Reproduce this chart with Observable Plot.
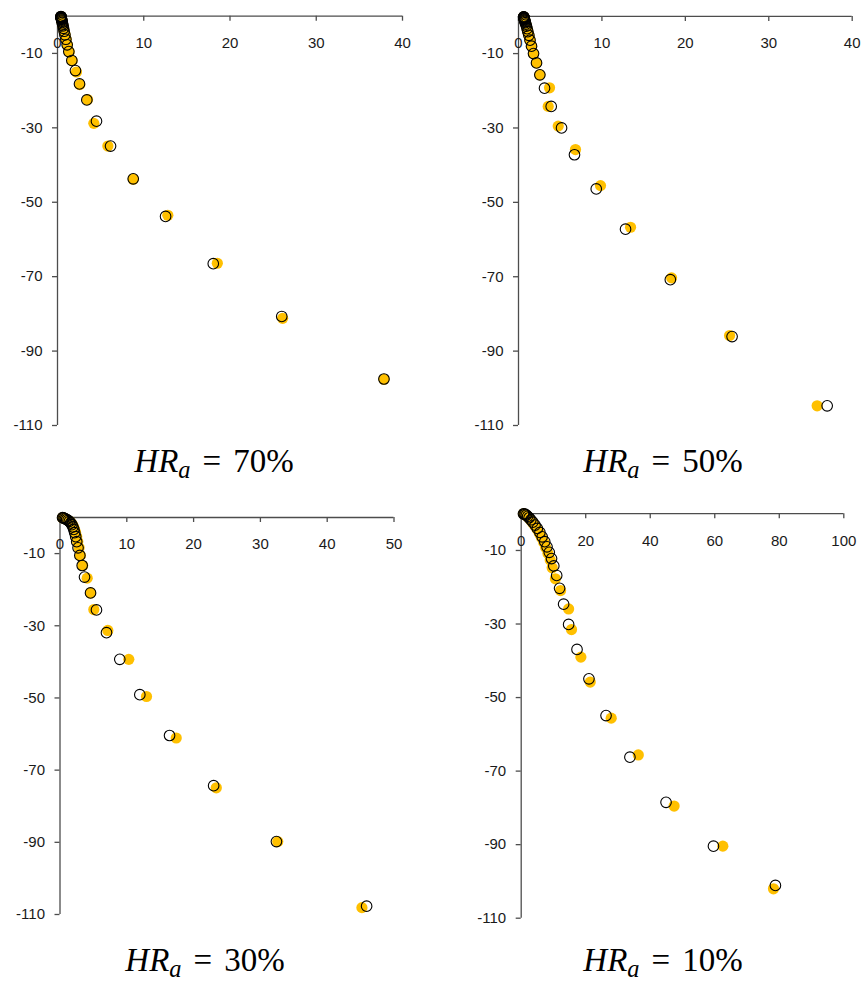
<!DOCTYPE html>
<html>
<head>
<meta charset="utf-8">
<script src="https://cdn.jsdelivr.net/npm/d3@7"></script>
<script src="https://cdn.jsdelivr.net/npm/@observablehq/plot@0.6"></script>
<style>
  body { margin: 0; background: #fff; }
  #wrap { position: relative; width: 861px; height: 981px; }
  .panel { position: absolute; }
  .title { position: absolute; width: 260px; height: 40px; text-align: center; font-family: "Liberation Serif", "DejaVu Serif", serif;
           font-size: 33px; line-height: 33px; color: #000; white-space: nowrap; }
  .title i { font-style: italic; }
  .title .sub { font-size: 0.74em; position: relative; top: 0.22em; font-style: italic; }
  .title .eq { margin: 0 12px; }
</style>
</head>
<body>
<div id="wrap"></div>
<script>
// ---------------- data ----------------
const panelTitles = ["70%", "50%", "30%", "10%"];
const yTicks = [-10, -30, -50, -70, -90, -110];
const xTicks70 = [0, 10, 20, 30, 40];
const xTicks50 = [0, 10, 20, 30, 40];
const xTicks30 = [0, 10, 20, 30, 40, 50];
const xTicks10 = [0, 20, 40, 60, 80, 100];

// HRa = 70%
const hr70OpenX = [0.40,0.41,0.41,0.42,0.43,0.44,0.45,0.47,0.49,0.52,0.55,0.59,0.64,0.70,0.77,0.86,0.97,1.12,1.31,1.66,2.08,2.55,3.40,4.52,6.15,8.78,12.53,18.06,26.0,37.85];
const hr70OpenY = [-0.08,-0.15,-0.22,-0.3,-0.4,-0.52,-0.66,-0.84,-1.06,-1.34,-1.68,-2.1,-2.6,-3.25,-4.05,-5.0,-6.2,-7.7,-9.5,-11.9,-14.6,-18.2,-22.5,-28.2,-34.9,-43.7,-53.8,-66.5,-80.7,-97.5];
const hr70FillX = [0.40,0.41,0.41,0.42,0.43,0.44,0.45,0.47,0.49,0.52,0.55,0.59,0.64,0.70,0.78,0.88,1.00,1.15,1.36,1.70,2.20,2.58,3.48,4.21,5.84,8.78,12.79,18.53,26.1,37.85];
const hr70FillY = [-0.08,-0.15,-0.22,-0.3,-0.4,-0.52,-0.66,-0.84,-1.06,-1.34,-1.68,-2.1,-2.6,-3.25,-4.05,-5.0,-6.2,-7.7,-9.6,-12.0,-15.0,-18.4,-22.4,-28.8,-34.9,-43.8,-53.5,-66.4,-81.2,-97.6];

// HRa = 50%
const hr50OpenX = [0.62,0.63,0.63,0.64,0.65,0.66,0.67,0.69,0.72,0.75,0.78,0.82,0.88,0.95,1.03,1.12,1.24,1.38,1.56,1.80,2.16,2.56,3.12,3.92,5.16,6.71,9.32,12.83,18.2,25.6,37.0];
const hr50OpenY = [-0.12,-0.18,-0.22,-0.28,-0.35,-0.44,-0.55,-0.69,-0.86,-1.08,-1.35,-1.7,-2.1,-2.6,-3.3,-4.1,-5.1,-6.4,-8.0,-10.0,-12.5,-15.7,-19.3,-24.2,-30.0,-37.2,-46.4,-57.2,-70.8,-86.1,-104.7];
const hr50FillX = [0.62,0.63,0.63,0.64,0.65,0.66,0.67,0.69,0.72,0.75,0.78,0.82,0.88,0.95,1.03,1.12,1.24,1.38,1.56,1.80,2.16,2.56,3.72,3.56,4.76,6.83,9.83,13.43,18.35,25.3,35.8];
const hr50FillY = [-0.12,-0.18,-0.22,-0.28,-0.35,-0.44,-0.55,-0.69,-0.86,-1.08,-1.35,-1.7,-2.1,-2.6,-3.3,-4.1,-5.1,-6.4,-8.0,-10.0,-12.5,-15.7,-19.2,-24.2,-29.5,-35.8,-45.5,-56.7,-70.3,-85.8,-104.7];

// HRa = 30%
const hr30OpenX = [0.38,0.50,0.65,0.82,1.00,1.20,1.40,1.60,1.78,1.93,2.07,2.20,2.35,2.50,2.70,2.97,3.32,3.67,4.57,5.46,6.96,8.95,11.95,16.4,23.0,32.4,45.9];
const hr30OpenY = [-0.05,-0.12,-0.22,-0.36,-0.55,-0.8,-1.1,-1.5,-2.0,-2.6,-3.3,-4.2,-5.3,-6.7,-8.4,-10.5,-13.3,-16.5,-20.9,-25.6,-31.9,-39.3,-49.1,-60.4,-74.3,-89.8,-107.7];
const hr30FillX = [0.38,0.50,0.65,0.82,1.00,1.22,1.44,1.66,1.86,2.03,2.19,2.34,2.50,2.66,2.86,3.05,3.40,4.07,4.57,5.06,7.16,10.3,12.95,17.4,23.4,32.6,45.2];
const hr30FillY = [-0.05,-0.12,-0.22,-0.36,-0.55,-0.8,-1.1,-1.5,-2.0,-2.6,-3.3,-4.2,-5.3,-6.7,-8.4,-10.5,-13.3,-16.8,-20.9,-25.5,-31.3,-39.3,-49.6,-61.1,-74.9,-89.8,-108.1];

// HRa = 10%
const hr10OpenX = [0.7,0.95,1.25,1.6,2.0,2.45,3.0,3.6,4.3,5.0,5.8,6.5,7.3,8.0,8.7,9.4,10.1,11.0,11.9,13.15,14.7,17.3,21.0,26.3,33.7,44.9,59.6,78.8];
const hr10OpenY = [-0.02,-0.08,-0.2,-0.4,-0.7,-1.1,-1.65,-2.3,-3.1,-4.0,-5.1,-6.3,-7.6,-9.0,-10.5,-12.2,-14.2,-16.8,-20.3,-24.6,-30.1,-36.9,-44.9,-54.9,-66.2,-78.5,-90.4,-101.1];
const hr10FillX = [0.7,0.92,1.2,1.55,1.95,2.4,2.9,3.5,4.2,4.9,5.6,6.3,7.0,7.6,8.3,9.0,9.6,10.6,12.2,14.7,15.6,18.5,21.4,27.9,36.3,47.4,62.5,78.2];
const hr10FillY = [-0.02,-0.08,-0.21,-0.42,-0.72,-1.15,-1.7,-2.4,-3.2,-4.2,-5.3,-6.5,-7.8,-9.2,-10.8,-12.6,-14.7,-17.7,-20.9,-25.9,-31.5,-39.0,-45.8,-55.6,-65.6,-79.5,-90.4,-102.0];

// ---------------- layout (pixels) ----------------
const layouts = [
  {left: 0,   top: 0,   w: 430, h: 440, ml: 57,   mr: 28,   mt: 15.7, mb: 15,   xDomain: [0, 40],  xTicks: xTicks70, openX: hr70OpenX, openY: hr70OpenY, fillX: hr70FillX, fillY: hr70FillY, tcx: 214, tbase: 473},
  {left: 430, top: 0,   w: 431, h: 440, ml: 88,   mr: 9.3,  mt: 15.9, mb: 15,   xDomain: [0, 40],  xTicks: xTicks50, openX: hr50OpenX, openY: hr50OpenY, fillX: hr50FillX, fillY: hr50FillY, tcx: 663, tbase: 473},
  {left: 0,   top: 490, w: 430, h: 440, ml: 59.5, mr: 36.5, mt: 27,   mb: 16,   xDomain: [0, 50],  xTicks: xTicks30, openX: hr30OpenX, openY: hr30OpenY, fillX: hr30FillX, fillY: hr30FillY, tcx: 205, tbase: 972},
  {left: 430, top: 490, w: 431, h: 440, ml: 90.7, mr: 17.7, mt: 23.2, mb: 12.3, xDomain: [0, 100], xTicks: xTicks10, openX: hr10OpenX, openY: hr10OpenY, fillX: hr10FillX, fillY: hr10FillY, tcx: 663, tbase: 972}
];

const axisColor = "#4d4d4d";
const labelColor = "#1a1a1a";

function makePanel(p) {
  const fill = p.fillX.map((x, i) => ({x, y: p.fillY[i]}));
  const open = p.openX.map((x, i) => ({x, y: p.openY[i]}));
  return Plot.plot({
    width: p.w, height: p.h,
    marginLeft: p.ml, marginRight: p.mr, marginTop: p.mt, marginBottom: p.mb,
    x: {domain: p.xDomain, axis: null},
    y: {domain: [-110, 0], axis: null},
    style: {fontFamily: "'Liberation Sans', Arial, sans-serif", fontSize: "15px", color: labelColor, background: "transparent", overflow: "visible"},
    marks: [
      Plot.axisY(yTicks, {tickSize: 5, tickPadding: 10, fontSize: 15, label: null, tickFormat: d => String(d), stroke: axisColor, strokeWidth: 1.3, fill: labelColor}),
      Plot.ruleX([0], {y1: -110, y2: 0, stroke: axisColor, strokeWidth: 1.3}),
      Plot.ruleY([0], {stroke: axisColor, strokeWidth: 1.3}),
      Plot.ruleX(p.xTicks, {x: d => d, y1: 0, y2: 0, insetBottom: -5, stroke: axisColor, strokeWidth: 1.3}),
      Plot.text(p.xTicks, {x: d => d, y: 0, dy: 27, text: d => String(d), fontSize: 15, fill: labelColor}),
      Plot.dot(fill, {x: "x", y: "y", r: 5.6, fill: "#FFC000", stroke: "none"}),
      Plot.dot(open, {x: "x", y: "y", r: 5.3, fill: "none", stroke: "#000", strokeWidth: 1.1})
    ]
  });
}

const wrap = document.getElementById("wrap");
layouts.forEach((p, k) => {
  const div = document.createElement("div");
  div.className = "panel";
  div.style.left = p.left + "px";
  div.style.top = p.top + "px";
  div.appendChild(makePanel(p));
  wrap.appendChild(div);

  const t = document.createElement("div");
  t.className = "title";
  t.style.left = (p.tcx - 130) + "px";
  t.style.top = (p.tbase - 27.6) + "px";
  t.innerHTML = '<i>HR</i><span class="sub">a</span><span class="eq">=</span>' + panelTitles[k];
  wrap.appendChild(t);
});
</script>
</body>
</html>
